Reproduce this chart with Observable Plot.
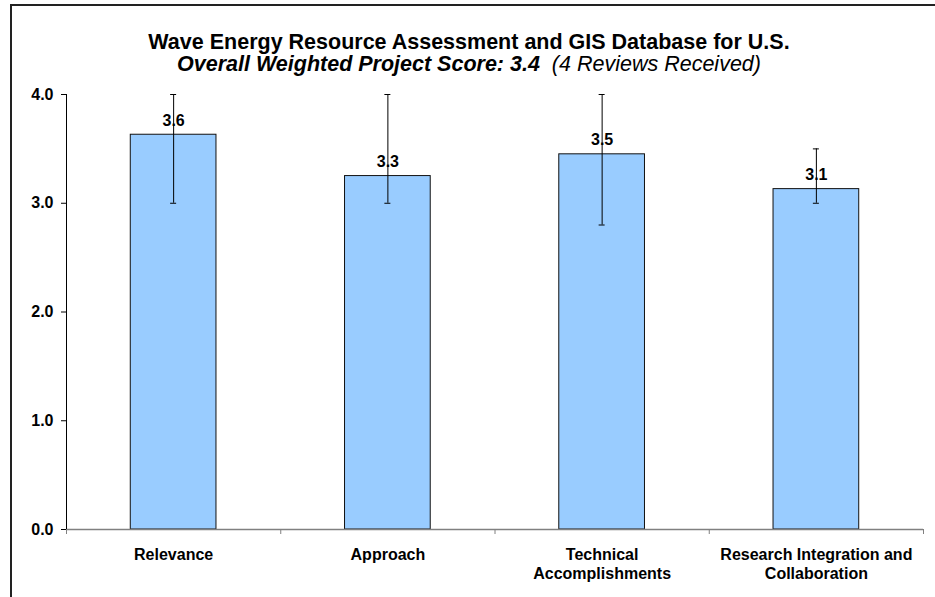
<!DOCTYPE html>
<html>
<head>
<meta charset="utf-8">
<script src="https://cdn.jsdelivr.net/npm/d3@7"></script>
<script src="https://cdn.jsdelivr.net/npm/@observablehq/plot@0.6"></script>
<style>
  html, body { margin: 0; padding: 0; background: #fff; }
  #wrap { position: relative; width: 935px; height: 597px; overflow: hidden; font-family: "Liberation Sans", Arial, sans-serif; }
  #frame { position: absolute; left: 10px; top: 4px; width: 940px; height: 610px; border-top: 2px solid #222; border-left: 2px solid #222; box-sizing: border-box; pointer-events: none; }
  #title { position: absolute; left: 0; top: 30px; width: 938px; text-align: center; font-size: 21.5px; font-weight: bold; color: #000; line-height: 24px; }
  #subtitle { position: absolute; left: 0; top: 52px; width: 938px; text-align: center; font-size: 21.5px; font-style: italic; color: #000; line-height: 24px; }
  #chart { position: absolute; left: 0; top: 80px; }
</style>
</head>
<body>
<div id="wrap">
  <div id="title">Wave Energy Resource Assessment and GIS Database for U.S.</div>
  <div id="subtitle"><b>Overall Weighted Project Score: 3.4</b>&nbsp; (4 Reviews Received)</div>
  <div id="chart"></div>
  <div id="frame"></div>
</div>
<script>
const categories = ["Relevance", "Approach", "Technical\nAccomplishments", "Research Integration and\nCollaboration"];
const scores = [3.63, 3.25, 3.45, 3.13];
const scoreLabels = ["3.6", "3.3", "3.5", "3.1"];
const errLow = [3.0, 3.0, 2.8, 3.0];
const errHigh = [4.0, 4.0, 4.0, 3.5];
const yTicks = [0, 1, 2, 3, 4];

const data = categories.map((c, i) => ({
  c, i, score: scores[i], label: scoreLabels[i], lo: errLow[i], hi: errHigh[i]
}));
const boundaries = d3.range(categories.length + 1);

const chart = Plot.plot({
  width: 935,
  height: 517,
  marginTop: 14,
  marginLeft: 66,
  marginRight: 12,
  marginBottom: 68,
  style: { fontFamily: '"Liberation Sans", Arial, sans-serif', background: "transparent" },
  x: { domain: [0, categories.length], axis: null },
  y: { domain: [0, 4], axis: null },
  marks: [
    Plot.rectY(data, { x1: d => d.i + 0.3, x2: d => d.i + 0.7, y: "score", fill: "#99CCFF", stroke: "#111", strokeWidth: 1 }),
    Plot.ruleY([0], { stroke: "#808080", strokeWidth: 1.5 }),
    Plot.axisX({ ticks: boundaries, tickFormat: () => "", tickSize: 5, stroke: "#808080" }),
    Plot.ruleX([0], { y1: 0, y2: 4, stroke: "#000" }),
    Plot.axisY({ ticks: yTicks, tickFormat: d3.format(".1f"), tickSize: 5, tickPadding: 8, fontSize: 16, fontWeight: "bold", fill: "#000", stroke: "#000" }),
    Plot.ruleX(data, { x: d => d.i + 0.5, y1: "lo", y2: "hi", stroke: "#000", strokeWidth: 1 }),
    Plot.ruleY(data, { y: "hi", x1: d => d.i + 0.5, x2: d => d.i + 0.5, insetLeft: -3, insetRight: -3, stroke: "#000" }),
    Plot.ruleY(data, { y: "lo", x1: d => d.i + 0.5, x2: d => d.i + 0.5, insetLeft: -3, insetRight: -3, stroke: "#000" }),
    Plot.text(data, { x: d => d.i + 0.5, y: "score", text: "label", lineAnchor: "bottom", dy: -9, fontSize: 16, fontWeight: "bold", fill: "#000" }),
    Plot.text(data, { x: d => d.i + 0.5, y: 0, text: "c", lineAnchor: "top", dy: 17, fontSize: 16, fontWeight: "bold", fill: "#000", lineHeight: 1.2 })
  ]
});
document.getElementById("chart").appendChild(chart);
</script>
</body>
</html>
